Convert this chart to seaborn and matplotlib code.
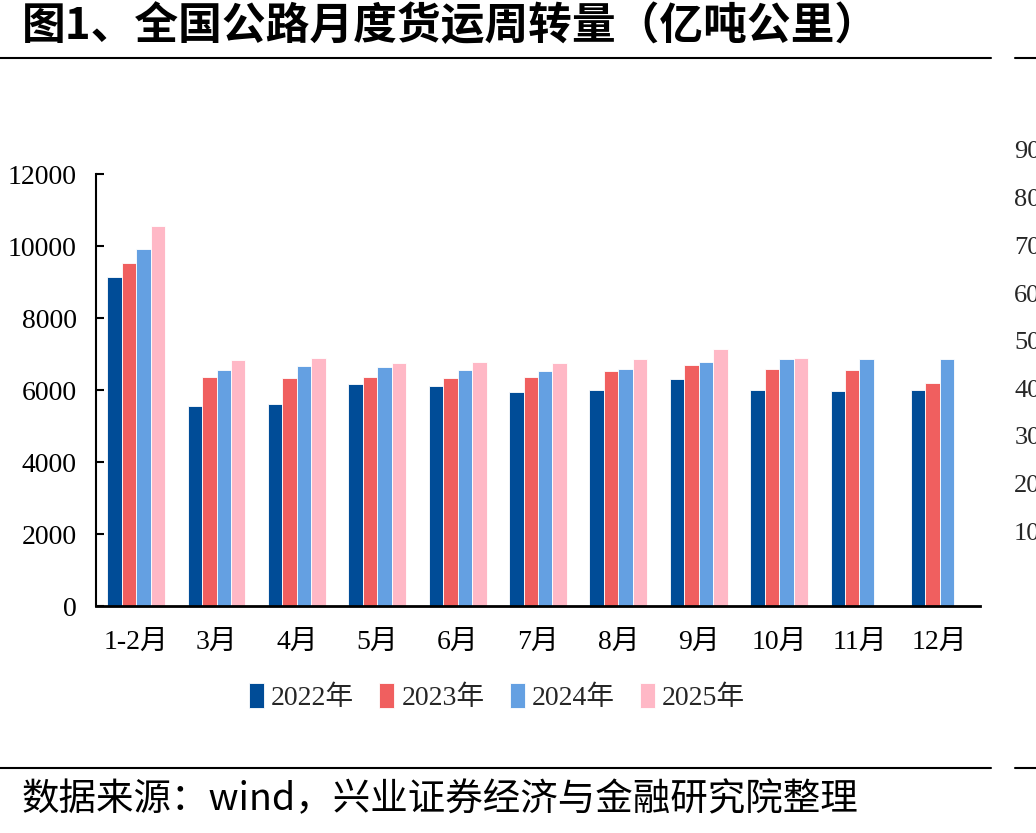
import matplotlib
matplotlib.use("Agg")
import matplotlib.pyplot as plt
import seaborn as sns
import pandas as pd
import numpy as np
from matplotlib.lines import Line2D

months = ["1-2月", "3月", "4月", "5月", "6月", "7月", "8月", "9月", "10月", "11月", "12月"]
years = ["2022年", "2023年", "2024年", "2025年"]
v2022 = [9130, 5560, 5600, 6160, 6110, 5940, 6000, 6300, 6000, 5960, 6000]
v2023 = [9520, 6370, 6330, 6370, 6330, 6370, 6520, 6700, 6590, 6560, 6190]
v2024 = [9930, 6560, 6670, 6630, 6560, 6520, 6590, 6780, 6850, 6850, 6850]
v2025 = [10560, 6840, 6880, 6740, 6780, 6740, 6850, 7140, 6880, np.nan, np.nan]
colors = ["#004C97", "#F05F5F", "#64A0E2", "#FFB8C6"]
side_ticks = [0, 100, 200, 300, 400, 500, 600, 700, 800, 900]

rows = []
for y, vals in zip(years, [v2022, v2023, v2024, v2025]):
    for m, v in zip(months, vals):
        rows.append({"月份": m, "年份": y, "值": v})
df = pd.DataFrame(rows)

sns.set_theme(style="white")
serif = ["Liberation Serif", "Noto Sans CJK SC"]
plt.rcParams["font.family"] = serif

W, H = 1036, 833
fig = plt.figure(figsize=(W / 100, H / 100), dpi=100)
ax = fig.add_axes([96 / W, 1 - 606 / H, (980 - 96) / W, (606 - 174) / H])

sns.barplot(data=df, x="月份", y="值", hue="年份", order=months, hue_order=years,
            palette=colors, saturation=1, width=0.72, edgecolor="white",
            linewidth=0.6, ax=ax, legend=True)

ax.set_ylim(0, 12000)
ax.set_xlim(-0.5, len(months) - 0.5)
ax.set_yticks(range(0, 12001, 2000))
ax.set_xlabel("")
ax.set_ylabel("")
for s in ["top", "right"]:
    ax.spines[s].set_visible(False)
ax.spines["left"].set_color("black")
ax.spines["left"].set_linewidth(1.5)
ax.spines["bottom"].set_color("black")
ax.spines["bottom"].set_linewidth(2)
ax.tick_params(axis="y", direction="in", length=6, width=1.5, color="black",
               labelsize=20, pad=14, left=True)
ax.tick_params(axis="x", length=0, labelsize=20, pad=17)
for t in ax.get_xticklabels() + ax.get_yticklabels():
    t.set_family(serif)
    t.set_color("black")

handles, labels = ax.get_legend_handles_labels()
ax.legend(handles, labels, loc="center", bbox_to_anchor=(497 / W, 1 - 697 / H),
          bbox_transform=fig.transFigure, ncol=4, frameon=False,
          prop={"family": serif, "size": 20}, handlelength=0.55, handleheight=1.0,
          handletextpad=0.25, columnspacing=0.9)

# neighbouring chart's axis labels (cut off at right edge in the source image)
ax2 = fig.add_axes([1062 / W, 1 - 579 / H, 0.05, (579 - 150) / H])
ax2.set_ylim(0, 900)
ax2.set_yticks(side_ticks)
ax2.set_yticklabels([str(t) for t in side_ticks], family=serif, fontsize=19)
ax2.tick_params(axis="y", length=0, pad=6, left=True)
ax2.set_xticks([])
for s in ax2.spines.values():
    s.set_visible(False)
ax2.patch.set_alpha(0)

fig.text(22 / W, 1 - 26 / H, "图1、全国公路月度货运周转量（亿吨公里）",
         family=["Noto Sans CJK SC", "DejaVu Sans"], fontweight="bold",
         fontsize=31.5, va="center", ha="left", color="black")
fig.text(22 / W, 1 - 800 / H, "数据来源：wind，兴业证券经济与金融研究院整理",
         family=["Noto Sans CJK SC", "DejaVu Sans"], fontsize=27,
         va="center", ha="left", color="black")

for yy in [58, 768]:
    fig.add_artist(Line2D([0, 991 / W], [1 - yy / H] * 2, color="black", lw=1.5,
                          transform=fig.transFigure))
    fig.add_artist(Line2D([1015 / W, 1], [1 - yy / H] * 2, color="black", lw=1.5,
                          transform=fig.transFigure))

fig.savefig("out.png", dpi=100)
